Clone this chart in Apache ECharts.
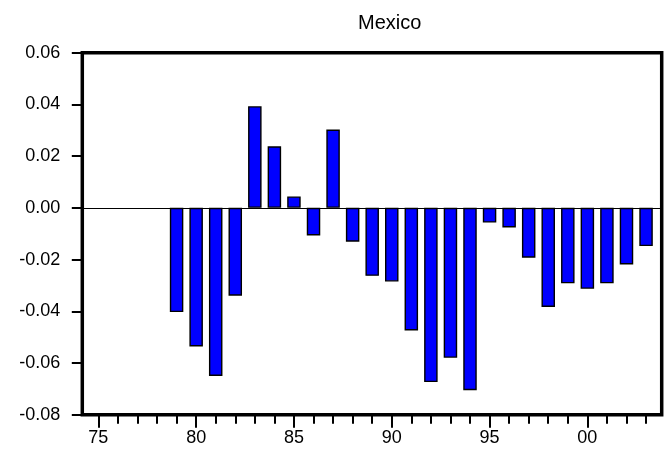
<!DOCTYPE html>
<html>
<head>
<meta charset="utf-8">
<script src="https://cdn.jsdelivr.net/npm/echarts@6/dist/echarts.min.js"></script>
<style>
html,body{margin:0;padding:0;background:#fff;}
#chart{width:670px;height:452px;}
</style>
</head>
<body>
<div id="chart"></div>
<script>
// Data (Mexico)
var years = [1979, 1980, 1981, 1982, 1983, 1984, 1985, 1986, 1987, 1988, 1989, 1990,
             1991, 1992, 1993, 1994, 1995, 1996, 1997, 1998, 1999, 2000, 2001, 2002, 2003];
var values = [-0.0403, -0.0536, -0.0650, -0.0340, 0.0393, 0.0238, 0.0044, -0.0107, 0.0303, -0.0131, -0.0263, -0.0285,
              -0.0474, -0.0674, -0.0580, -0.0705, -0.0057, -0.0076, -0.0193, -0.0383, -0.0292, -0.0313, -0.0292, -0.0219, -0.0148];
var majorTickYears = [1975, 1980, 1985, 1990, 1995, 2000];
var minorTickYears = [1975, 1976, 1977, 1978, 1979, 1980, 1981, 1982, 1983, 1984, 1985, 1986, 1987, 1988, 1989,
                      1990, 1991, 1992, 1993, 1994, 1995, 1996, 1997, 1998, 1999, 2000, 2001, 2002, 2003];
var yTicks = [-0.08, -0.06, -0.04, -0.02, 0.00, 0.02, 0.04, 0.06];
var titleText = 'Mexico';

var FONT = '"Liberation Sans", Arial, sans-serif';
var barData = years.map(function (y, i) { return [y, values[i]]; });

var chart = echarts.init(document.getElementById('chart'), null, {renderer: 'canvas'});
chart.setOption({
  animation: false,
  backgroundColor: '#ffffff',
  title: {
    text: titleText,
    left: 353,
    top: 8,
    textStyle: {fontFamily: FONT, fontSize: 20, fontWeight: 'normal', color: '#000'}
  },
  grid: {
    left: 82.3, right: 8.3, top: 52.7, bottom: 37.3,
    show: true, borderColor: '#000', borderWidth: 3.5, backgroundColor: 'transparent'
  },
  xAxis: [{
    type: 'value', min: 1974.18, max: 2003.8, position: 'bottom',
    axisLine: {show: false, onZero: false},
    splitLine: {show: false},
    axisTick: {show: true, customValues: majorTickYears, length: 13, inside: false,
               lineStyle: {color: '#000', width: 2}},
    axisLabel: {show: true, customValues: majorTickYears, margin: 14,
                fontFamily: FONT, fontSize: 18, color: '#000',
                formatter: function (v) { var s = String(Math.round(v) % 100); return s.length < 2 ? '0' + s : s; }}
  }, {
    type: 'value', min: 1974.18, max: 2003.8, position: 'bottom',
    axisLine: {show: false, onZero: false},
    splitLine: {show: false},
    axisTick: {show: true, customValues: minorTickYears, length: 9, inside: false,
               lineStyle: {color: '#000', width: 2}},
    axisLabel: {show: false}
  }],
  yAxis: {
    type: 'value', min: -0.08, max: 0.06,
    axisLine: {show: false, onZero: false},
    splitLine: {show: false},
    axisTick: {show: true, customValues: yTicks, length: 10.5, lineStyle: {color: '#000', width: 2}},
    axisLabel: {customValues: yTicks, margin: 22, fontFamily: FONT, fontSize: 18, color: '#000',
                formatter: function (v) { return v.toFixed(2); }}
  },
  series: [{
    type: 'bar',
    xAxisIndex: 0,
    data: barData,
    barWidth: 13.5,
    itemStyle: {color: '#0000ff', borderColor: '#000', borderWidth: 1.4},
    markLine: {
      silent: true, symbol: 'none', label: {show: false},
      lineStyle: {color: '#000', width: 1, type: 'solid'},
      data: [{yAxis: 0}]
    },
    z: 3
  }]
});
</script>
</body>
</html>
